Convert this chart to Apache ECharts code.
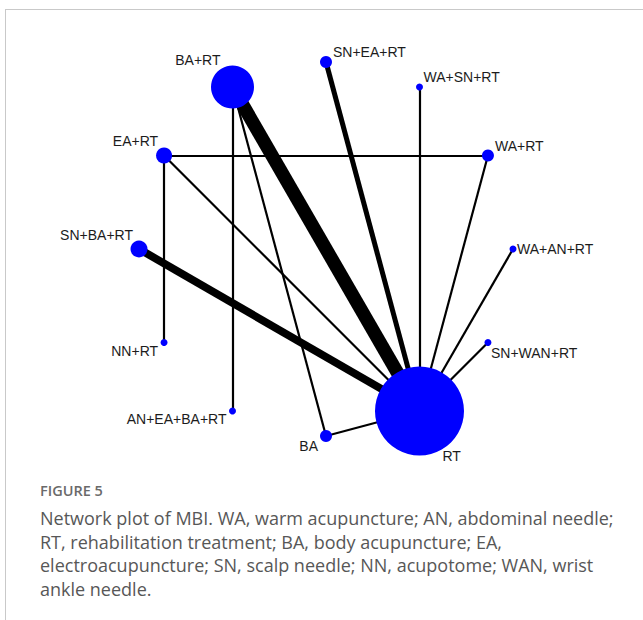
<!DOCTYPE html>
<html>
<head>
<meta charset="utf-8">
<title>Network plot of MBI</title>
<script src="https://cdn.jsdelivr.net/npm/echarts@6/dist/echarts.min.js"></script>
<style>
  html, body { margin: 0; padding: 0; background: #fff; }
  #frame {
    position: absolute; left: 5px; top: 9px; width: 660px; height: 620px;
    border-top: 1px solid #c9c9c9; border-left: 1px solid #c9c9c9;
  }
  #chart { position: absolute; left: 0; top: 0; width: 643px; height: 472px; }
  #caption { position: absolute; left: 40px; top: 480px; font-family: 'Open Sans', sans-serif; color: #575757; }
  #caption .fig { font-size: 14.5px; font-weight: 600; color: #6a6a6a; line-height: 22px; }
  #caption .body { margin-top: 5px; }
  #caption .line { font-size: 18px; line-height: 23.6px; white-space: nowrap; }
</style>
</head>
<body>
<div id="frame"></div>
<div id="chart"></div>
<div id="caption">
  <div class="fig">FIGURE 5</div>
  <div class="body">
    <div class="line">Network plot of MBI. WA, warm acupuncture; AN, abdominal needle;</div>
    <div class="line">RT, rehabilitation treatment; BA, body acupuncture; EA,</div>
    <div class="line">electroacupuncture; SN, scalp needle; NN, acupotome; WAN, wrist</div>
    <div class="line">ankle needle.</div>
  </div>
</div>
<script>
// Treatments in clockwise order around the circle, starting at the top
const treatments = ['SN+EA+RT', 'WA+SN+RT', 'WA+RT', 'WA+AN+RT', 'SN+WAN+RT', 'RT',
                    'BA', 'AN+EA+BA+RT', 'NN+RT', 'SN+BA+RT', 'EA+RT', 'BA+RT'];

// Relative node weight (sample size) for each treatment
const nodeWeight = [12, 7, 12, 7, 7, 89, 12, 7, 7, 17, 16, 43];

// Direct comparisons: [treatment A, treatment B, number of studies]
const comparisons = [
  ['BA+RT', 'RT', 5],
  ['SN+BA+RT', 'RT', 3],
  ['SN+EA+RT', 'RT', 2],
  ['WA+SN+RT', 'RT', 1],
  ['WA+RT', 'RT', 1],
  ['WA+AN+RT', 'RT', 1],
  ['SN+WAN+RT', 'RT', 1],
  ['BA', 'RT', 1],
  ['EA+RT', 'RT', 1],
  ['EA+RT', 'WA+RT', 1],
  ['EA+RT', 'NN+RT', 1],
  ['BA+RT', 'AN+EA+BA+RT', 1],
  ['BA+RT', 'BA', 1]
];

// Label placement around each node: [align, dx, dy]
const labelPlacement = {
  'SN+EA+RT':    ['left', 7, -10],
  'WA+SN+RT':    ['left', 4, -10],
  'WA+RT':       ['left', 7, -10],
  'WA+AN+RT':    ['left', 4, 0],
  'SN+WAN+RT':   ['left', 3, 10],
  'RT':          ['left', 23, 45],
  'BA':          ['right', -8, 10],
  'AN+EA+BA+RT': ['right', -6, 8],
  'NN+RT':       ['right', -6, 8],
  'SN+BA+RT':    ['right', -6, -14],
  'EA+RT':       ['right', -6, -15],
  'BA+RT':       ['right', -12, -27]
};

const sizeOf = w => w;                    // node diameter from weight
const widthOf = n => 2.8 * n - 0.6;       // edge width from study count

const nodes = treatments.map((t, i) => {
  const p = labelPlacement[t];
  return {
    name: t,
    value: [1, t],
    symbolSize: sizeOf(nodeWeight[i]),
    label: {
      show: true,
      position: 'inside',
      align: p[0],
      verticalAlign: 'middle',
      offset: [p[1], p[2]]
    }
  };
});

const links = comparisons.map(c => ({
  source: c[0],
  target: c[1],
  lineStyle: { width: widthOf(c[2]) }
}));

const chart = echarts.init(document.getElementById('chart'), null, { renderer: 'svg' });
chart.setOption({
  animation: false,
  polar: { center: [326, 249], radius: 187 },
  angleAxis: {
    type: 'category',
    data: treatments,
    startAngle: 90,
    clockwise: true,
    boundaryGap: false,
    show: false,
    axisLine: { show: false }, axisTick: { show: false },
    axisLabel: { show: false }, splitLine: { show: false }
  },
  radiusAxis: {
    type: 'value', min: 0, max: 1, show: false,
    axisLine: { show: false }, axisTick: { show: false },
    axisLabel: { show: false }, splitLine: { show: false }
  },
  series: [{
    type: 'graph',
    coordinateSystem: 'polar',
    layout: 'none',
    data: nodes,
    links: links,
    symbol: 'circle',
    itemStyle: { color: '#0000ff', borderWidth: 0 },
    lineStyle: { color: '#000000', opacity: 1, curveness: 0 },
    label: {
      color: '#1c1c1c',
      fontFamily: 'Liberation Sans, Arial, sans-serif',
      fontSize: 14
    },
    emphasis: { disabled: true }
  }]
});
</script>
</body>
</html>
